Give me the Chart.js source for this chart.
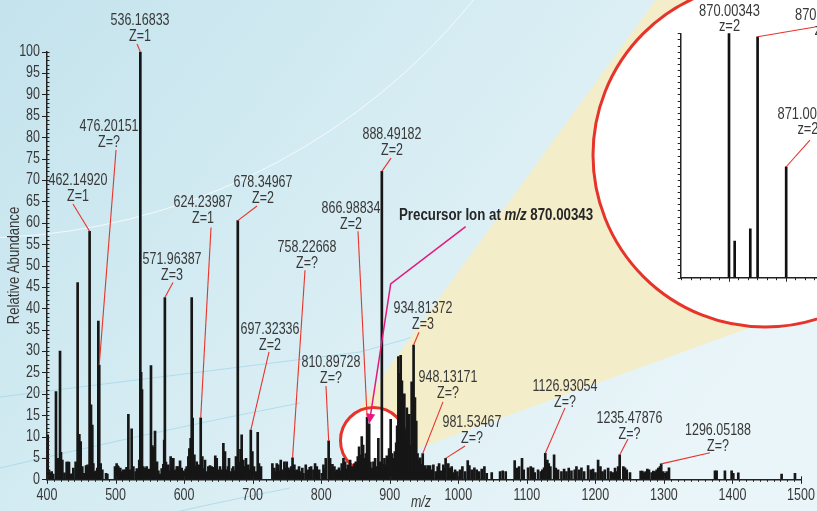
<!DOCTYPE html>
<html>
<head>
<meta charset="utf-8">
<script src="https://cdn.jsdelivr.net/npm/chart.js@4.4.0/dist/chart.umd.min.js"></script>
<style>
  html, body { margin: 0; padding: 0; overflow: hidden; width: 817px; height: 511px; background: #fff; }
  #wrap { position: relative; width: 817px; height: 511px; overflow: hidden; }
  #spectrum { position: absolute; left: 0; top: 0; }
  #closeup { position: absolute; left: 640px; top: 0; }
</style>
</head>
<body>
<div id="wrap">
  <canvas id="spectrum" width="817" height="511"></canvas>
  <canvas id="closeup" width="220" height="300"></canvas>
</div>
<script>
// ---- Full-scan spectrum: centroid m/z and relative abundance (%) ----
const peakMz = [
  401.0, 402.9, 404.5, 406.8, 409.0, 413.1, 415.6, 419.0, 420.4, 422.4,
  425.5, 428.7, 430.2, 432.1, 435.0, 438.4, 441.8, 444.7, 447.2, 449.1,
  451.5, 454.5, 456.9, 459.3, 461.0, 462.14920, 464.2, 466.1, 467.6, 470.0,
  472.0, 473.4, 474.9, 476.20151, 478.3, 480.7, 486.1, 488.0, 499.2, 501.6,
  502.8, 504.1, 505.5, 507.0, 509.2, 511.4, 513.8, 516.0, 518.7, 521.1,
  523.5, 526.0, 529.4, 531.0, 533.2, 534.6, 536.16833, 537.3, 538.6, 540.5,
  543.0, 545.4, 547.5, 549.2, 551.7, 553.7, 555.5, 557.6, 560.5, 562.5,
  564.9, 567.3, 569.7, 571.0, 571.96387, 573.5, 575.2, 577.0, 579.0, 580.4,
  582.2, 584.3, 586.0, 587.7, 589.3, 590.6, 592.5, 594.1, 596.5, 598.5,
  600.5, 602.2, 603.8, 606.2, 607.7, 609.6, 611.1, 612.5, 615.0, 617.0,
  618.4, 620.0, 621.8, 624.23987, 626.6, 628.5, 630.5, 633.0, 635.4, 637.8,
  640.3, 642.0, 643.7, 645.5, 647.6, 650.0, 652.4, 655.0, 657.3, 659.7,
  662.1, 664.0, 665.5, 668.4, 670.5, 671.8, 674.0, 675.7, 677.0, 678.34967,
  680.2, 682.3, 684.0, 686.4, 688.4, 690.3, 693.7, 695.5, 697.32336, 699.6,
  702.0, 704.4, 707.4, 709.3, 712.2, 728.8, 731.7, 733.5, 735.2, 737.5,
  739.3, 741.0, 743.4, 746.3, 748.0, 749.7, 752.2, 754.5, 756.3, 758.22668,
  760.9, 762.5, 764.3, 767.7, 770.6, 772.5, 774.1, 777.5, 779.3, 781.4,
  783.3, 785.3, 788.7, 791.1, 793.6, 795.2, 797.0, 800.9, 803.3, 805.0,
  806.7, 810.89728, 813.0, 814.7, 816.4, 819.3, 821.0, 822.7, 826.1, 828.0,
  830.0, 832.5, 834.9, 836.8, 838.8, 840.5, 842.2, 844.6, 846.5, 848.5,
  850.5, 852.0, 853.4, 855.3, 856.8, 859.2, 861.2, 863.1, 865.1, 866.98834,
  868.5, 870.00343, 871.8, 873.8, 876.3, 878.7, 881.1, 883.4, 886.0, 888.49182,
  890.5, 892.3, 894.3, 895.8, 897.4, 899.1, 901.4, 903.5, 905.5, 907.5,
  909.4, 910.8, 912.6, 914.2, 916.0, 917.8, 919.6, 921.3, 923.2, 925.0,
  927.0, 928.6, 930.5, 932.0, 934.81372, 936.8, 938.7, 940.6, 942.4, 944.5,
  946.5, 948.13171, 951.5, 953.5, 955.4, 958.8, 961.2, 963.7, 967.1, 970.0,
  972.0, 974.8, 978.2, 980.0, 981.53467, 985.5, 988.0, 990.4, 993.0, 995.3,
  998.7, 1002.6, 1006.0, 1009.9, 1013.8, 1016.2, 1019.6, 1023.5, 1026.9, 1030.3,
  1034.2, 1038.1, 1041.5, 1048.8, 1061.0, 1064.8, 1069.2, 1082.3, 1085.7, 1088.7,
  1093.0, 1095.5, 1101.8, 1105.7, 1109.1, 1111.5, 1116.4, 1120.3, 1122.7, 1125.1,
  1126.93054, 1130.0, 1132.0, 1134.4, 1139.8, 1142.2, 1145.6, 1150.5, 1154.4, 1157.8,
  1161.2, 1165.1, 1169.9, 1172.4, 1176.3, 1179.7, 1183.6, 1189.4, 1193.3, 1196.7,
  1200.1, 1204.0, 1207.4, 1210.4, 1213.8, 1218.6, 1222.5, 1225.9, 1228.7, 1231.1,
  1233.2, 1235.47876, 1240.8, 1243.2, 1245.7, 1250.5, 1266.1, 1268.5, 1270.9, 1273.4,
  1275.8, 1278.2, 1282.1, 1284.6, 1287.0, 1289.4, 1291.8, 1294.3, 1296.05188, 1299.1,
  1301.6, 1304.0, 1307.4, 1374.5, 1376.9, 1389.0, 1398.8, 1401.2, 1408.5, 1471.7, 1491.2
];
const peakIntensity = [
  10.4, 2.2, 1.5, 1.8, 1.2, 20.5, 4.9, 30.0, 6.3, 4.5,
  1.5, 4.0, 4.0, 4.0, 1.3, 2.6, 4.1, 46.0, 10.5, 8.8,
  3.0, 1.4, 3.2, 3.4, 2.5, 58.0, 17.4, 12.7, 3.7, 1.8,
  2.0, 2.6, 37.0, 26.7, 3.7, 2.2, 1.4, 1.2, 3.0, 3.7,
  3.2, 3.0, 2.0, 2.6, 1.8, 2.2, 2.2, 2.8, 15.2, 2.2,
  11.8, 3.0, 1.8, 2.5, 2.2, 4.5, 100.0, 25.0, 21.0, 3.0,
  2.6, 3.0, 2.0, 2.4, 26.6, 7.9, 7.5, 11.3, 4.1, 2.0,
  1.2, 2.5, 3.5, 9.2, 42.5, 4.0, 2.5, 3.4, 2.0, 5.3,
  2.5, 4.9, 2.0, 2.2, 3.0, 3.0, 2.2, 4.3, 2.6, 2.0,
  1.8, 2.4, 3.0, 5.3, 7.2, 9.6, 42.5, 14.3, 5.7, 3.0,
  4.1, 2.5, 3.4, 14.4, 5.3, 2.5, 4.5, 1.8, 3.0, 3.2,
  3.0, 2.2, 2.8, 5.5, 4.9, 2.2, 3.0, 2.2, 8.4, 6.5,
  2.2, 3.0, 4.9, 1.8, 2.5, 3.0, 2.0, 5.3, 4.0, 60.5,
  4.0, 7.0, 10.4, 4.5, 3.0, 4.9, 3.4, 2.2, 11.5, 6.5,
  3.0, 1.8, 11.0, 3.7, 3.0, 3.7, 2.6, 1.8, 3.7, 3.4,
  2.0, 4.5, 2.2, 4.1, 2.6, 4.1, 2.7, 2.2, 3.0, 5.0,
  3.4, 2.0, 2.2, 3.0, 1.8, 2.6, 1.4, 3.4, 2.0, 2.2,
  2.8, 3.0, 2.2, 3.7, 3.0, 1.8, 2.2, 1.4, 3.4, 2.4,
  4.9, 9.0, 4.9, 2.8, 3.5, 3.0, 1.8, 2.2, 2.7, 2.0,
  3.7, 4.9, 4.1, 2.4, 3.4, 2.6, 4.5, 3.0, 2.4, 3.7,
  4.1, 3.2, 5.3, 7.6, 5.7, 10.0, 8.0, 4.9, 6.0, 14.5,
  5.0, 13.0, 4.0, 2.6, 4.1, 4.9, 3.0, 9.6, 4.1, 72.0,
  3.5, 4.9, 3.4, 5.5, 4.1, 7.2, 14.0, 6.0, 4.9, 6.5,
  8.5, 12.5, 28.7, 24.8, 29.0, 23.0, 18.2, 20.0, 11.5, 16.7,
  9.0, 15.2, 8.0, 22.8, 31.4, 19.1, 13.6, 6.0, 4.5, 5.0,
  3.5, 6.0, 3.2, 2.4, 3.2, 3.2, 2.2, 3.4, 1.8, 3.0,
  3.7, 2.0, 3.4, 2.6, 4.9, 3.7, 2.6, 3.0, 1.6, 2.2,
  1.8, 2.2, 3.0, 1.8, 4.4, 3.2, 2.2, 2.7, 2.2, 1.8,
  2.4, 3.0, 1.4, 1.6, 1.8, 2.0, 1.8, 4.4, 2.6, 3.0,
  4.9, 2.2, 2.7, 3.0, 2.7, 1.6, 2.2, 1.8, 2.2, 2.7,
  6.1, 4.5, 3.7, 3.0, 5.7, 2.6, 2.2, 1.8, 2.4, 1.8,
  2.6, 2.0, 2.2, 3.0, 2.2, 2.7, 1.8, 3.2, 2.2, 2.4,
  1.6, 4.5, 3.0, 1.8, 2.2, 2.6, 1.8, 1.6, 2.6, 1.8,
  3.0, 5.7, 3.0, 2.7, 2.2, 1.6, 1.9, 1.9, 1.6, 1.8,
  2.4, 2.2, 1.6, 1.9, 1.8, 2.2, 2.6, 3.0, 3.6, 1.8,
  1.4, 1.8, 2.7, 2.0, 2.0, 2.0, 2.0, 1.4, 1.5, 1.2, 1.4
];

// ---- Annotated ions ----
const labeledMz = [462.14920, 476.20151, 536.16833, 571.96387, 624.23987, 678.34967,
  697.32336, 758.22668, 810.89728, 866.98834, 888.49182, 934.81372, 948.13171,
  981.53467, 1126.93054, 1235.47876, 1296.05188];
const labeledCharge = ['1', '?', '1', '3', '1', '2', '2', '?', '?', '2', '2', '3', '?', '?', '?', '?', '?'];
const precursorMz = 870.00343;

// ---- Axis ticks ----
const mzTicks = [400, 500, 600, 700, 800, 900, 1000, 1100, 1200, 1300, 1400, 1500];
const abundanceTicks = [0, 5, 10, 15, 20, 25, 30, 35, 40, 45, 50, 55, 60, 65, 70, 75, 80, 85, 90, 95, 100];

// ---- Precursor isotope cluster (close-up) ----
const closeupMz = [870.00343, 870.103, 870.377, 870.50511, 871.00678];
const closeupIntensity = [100, 15, 20, 98.6, 45.4];
const closeupLabeledMz = [870.00343, 870.50511, 871.00678];
const closeupCharge = ['2', '2', '2'];

// Callout placement, in data units (text centre, and leader start)
const calloutLayout = [
  { tx: 445.2, ty: 69.8, lx: 437.9, ly: 64.4 },
  { tx: 490.5, ty: 82.4, lx: 500.7, ly: 77.0 },
  { tx: 535.7, ty: 107.2, lx: 531.3, ly: 101.8 },
  { tx: 582.4, ty: 51.3, lx: 583.8, ly: 46.0 },
  { tx: 627.6, ty: 64.7, lx: 639.3, ly: 58.9 },
  { tx: 715.1, ty: 69.3, lx: 706.4, ly: 63.9 },
  { tx: 725.3, ty: 34.9, lx: 723.9, ly: 29.8 },
  { tx: 779.3, ty: 54.3, lx: 776.4, ly: 48.9 },
  { tx: 814.3, ty: 27.2, lx: 807.0, ly: 21.8 },
  { tx: 843.5, ty: 63.4, lx: 853.7, ly: 58.0 },
  { tx: 903.3, ty: 80.5, lx: 901.9, ly: 75.1 },
  { tx: 948.5, ty: 39.9, lx: 942.7, ly: 34.4 },
  { tx: 985.0, ty: 23.7, lx: 977.7, ly: 18.1 },
  { tx: 1020.0, ty: 13.2, lx: 1009.8, ly: 7.8 },
  { tx: 1155.7, ty: 21.6, lx: 1155.7, ly: 16.7 },
  { tx: 1249.8, ty: 14.3, lx: 1247.6, ly: 9.4 },
  { tx: 1378.9, ty: 11.5, lx: 1367.2, ly: 6.2 }
];
const closeupLayout = [
  { tx: 870.012, ty: 108.8, lx: null, ly: null },
  { tx: 871.687, ty: 107.2, lx: 871.512, ly: 102.6 },
  { tx: 871.389, ty: 66.6, lx: 871.424, ly: 56.3 }
];
const precursorCallout = { textMz: 913.5, textInt: 61.6, path: [[1010.8, 59.1], [901.4, 45.7]] };
const ringCentre = { mz: 876.3, int: 9.07 };

const FONT = "'Liberation Sans', Arimo, Arial, sans-serif";
const NARROW = 0.78;          // horizontal squeeze for the condensed lettering
const BODY = '16px';
const INK = '#383838';
const RED = '#e7342b';
const MAGENTA = '#e4197f';

function intensityOf(mz) {
  const i = peakMz.indexOf(mz);
  return i >= 0 ? peakIntensity[i] : 0;
}

// condensed text: draw with a horizontal squeeze around the anchor point
function narrowText(ctx, text, x, y, opts = {}) {
  ctx.save();
  ctx.font = (opts.font || BODY) + ' ' + FONT;
  ctx.fillStyle = opts.color || INK;
  ctx.textAlign = opts.align || 'center';
  ctx.textBaseline = 'middle';
  ctx.translate(x, y);
  if (opts.rotate) ctx.rotate(opts.rotate);
  ctx.scale(opts.squeeze || NARROW, 1);
  ctx.fillText(text, 0, 0);
  const w = ctx.measureText(text).width * (opts.squeeze || NARROW);
  ctx.restore();
  return w;
}

// Backdrop: pale gradient, faint arcs, the magnifier cone and lens
const backdrop = {
  id: 'backdrop',
  beforeDraw(chart) {
    const { ctx, width, height, scales: { x, y } } = chart;
    ctx.save();
    const g = ctx.createLinearGradient(0, 0, width * 0.8, height);
    g.addColorStop(0, '#c4e3ed');
    g.addColorStop(0.5, '#d7edf3');
    g.addColorStop(1, '#eaf5f9');
    ctx.fillStyle = g;
    ctx.fillRect(0, 0, width, height);

    ctx.lineWidth = 1;
    ctx.strokeStyle = 'rgba(255,255,255,0.75)';
    ctx.beginPath(); ctx.arc(-25, -403, 641, 0, Math.PI / 2); ctx.stroke();
    ctx.strokeStyle = 'rgba(150,210,228,0.6)';
    ctx.beginPath(); ctx.moveTo(0, 397); ctx.quadraticCurveTo(200, 372, 360, 352); ctx.quadraticCurveTo(450, 330, 520, 290); ctx.stroke();
    ctx.beginPath(); ctx.moveTo(0, 468); ctx.quadraticCurveTo(160, 430, 300, 403); ctx.stroke();
    ctx.beginPath(); ctx.moveTo(180, 511); ctx.quadraticCurveTo(230, 500, 290, 488); ctx.stroke();

    const cx = x.getPixelForValue(ringCentre.mz);
    const cy = y.getPixelForValue(ringCentre.int);
    ctx.fillStyle = '#f4edca';
    ctx.beginPath();
    ctx.moveTo(cx - 15.5, cy - 30.5);
    ctx.lineTo(670, -20);
    ctx.lineTo(900, -20);
    ctx.lineTo(900, 273);
    ctx.lineTo(cx + 34.5, cy + 11.5);
    ctx.lineTo(cx, cy);
    ctx.closePath();
    ctx.fill();

    ctx.fillStyle = '#ffffff';
    ctx.strokeStyle = RED;
    ctx.lineWidth = 3;
    ctx.beginPath(); ctx.arc(765, 155, 172, 0, Math.PI * 2); ctx.fill(); ctx.stroke();
    ctx.beginPath(); ctx.arc(cx, cy, 33, 0, Math.PI * 2); ctx.fill(); ctx.stroke();
    ctx.restore();
  }
};

// Tick marks, tick labels and axis titles
const axisDress = {
  id: 'axisDress',
  afterDatasetsDraw(chart) {
    const { ctx, chartArea: a, scales: { x, y } } = chart;
    ctx.save();
    ctx.strokeStyle = '#222';
    ctx.lineWidth = 1;
    ctx.beginPath();
    for (let v = 0; v <= 100; v += 1) {
      const py = Math.round(y.getPixelForValue(v)) + 0.5;
      if (v % 5 === 0) { ctx.moveTo(a.left - 5, py); ctx.lineTo(a.left + 2.5, py); }
      else { ctx.moveTo(a.left, py); ctx.lineTo(a.left + 2.5, py); }
    }
    for (let v = 400; v <= 1500; v += 10) {
      const px = Math.round(x.getPixelForValue(v)) + 0.5;
      if (v % 100 === 0) { ctx.moveTo(px, a.bottom - 3); ctx.lineTo(px, a.bottom + 4.5); }
      else { ctx.moveTo(px, a.bottom); ctx.lineTo(px, a.bottom + 2.5); }
    }
    ctx.stroke();
    ctx.restore();

    abundanceTicks.forEach(v => narrowText(ctx, String(v), a.left - 7, y.getPixelForValue(v), { align: 'right' }));
    mzTicks.forEach(v => narrowText(ctx, String(v), x.getPixelForValue(v), a.bottom + 16.5));
    narrowText(ctx, 'Relative Abundance', 15, (a.top + a.bottom) / 2, { rotate: -Math.PI / 2, squeeze: 0.82 });
    narrowText(ctx, 'm/z', (a.left + a.right) / 2 - 3, 503, { font: 'italic 16px' });
  }
};

function arrowHead(ctx, x0, y0, x1, y1, len, half) {
  const ang = Math.atan2(y1 - y0, x1 - x0);
  const bx = x1 - len * Math.cos(ang), by = y1 - len * Math.sin(ang);
  ctx.beginPath();
  ctx.moveTo(x1, y1);
  ctx.lineTo(bx + half * Math.sin(ang), by - half * Math.cos(ang));
  ctx.lineTo(bx - half * Math.sin(ang), by + half * Math.cos(ang));
  ctx.closePath();
  ctx.fill();
}

// Peak callouts and the precursor pointer
const callouts = {
  id: 'callouts',
  afterDatasetsDraw(chart) {
    const { ctx, scales: { x, y } } = chart;
    labeledMz.forEach((mz, i) => {
      const L = calloutLayout[i];
      const px = x.getPixelForValue(mz), py = y.getPixelForValue(intensityOf(mz));
      ctx.save();
      ctx.strokeStyle = RED;
      ctx.lineWidth = 1.1;
      ctx.beginPath();
      ctx.moveTo(x.getPixelForValue(L.lx), y.getPixelForValue(L.ly));
      ctx.lineTo(px, py);
      ctx.stroke();
      ctx.restore();
      const tx = x.getPixelForValue(L.tx), ty = y.getPixelForValue(L.ty);
      narrowText(ctx, mz.toFixed(5), tx, ty);
      narrowText(ctx, 'Z=' + labeledCharge[i], tx, ty + 16);
    });

    // precursor pointer
    const tipX = x.getPixelForValue(precursorMz), tipY = y.getPixelForValue(intensityOf(precursorMz));
    const pts = precursorCallout.path.map(p => [x.getPixelForValue(p[0]), y.getPixelForValue(p[1])]);
    ctx.save();
    ctx.strokeStyle = MAGENTA;
    ctx.fillStyle = MAGENTA;
    ctx.lineWidth = 1.5;
    const last = pts[pts.length - 1];
    const ang = Math.atan2(tipY - last[1], tipX - last[0]);
    ctx.beginPath();
    ctx.moveTo(pts[0][0], pts[0][1]);
    for (let k = 1; k < pts.length; k++) ctx.lineTo(pts[k][0], pts[k][1]);
    ctx.lineTo(tipX - 6 * Math.cos(ang), tipY - 6 * Math.sin(ang));
    ctx.stroke();
    arrowHead(ctx, last[0], last[1], tipX, tipY, 10, 4.5);
    ctx.restore();

    // precursor caption
    let cx = x.getPixelForValue(precursorCallout.textMz);
    const cy = y.getPixelForValue(precursorCallout.textInt);
    const parts = [['Precursor Ion at ', 'bold 16px'], ['m/z', 'italic bold 16px'], [' ' + precursorMz.toFixed(5), 'bold 16px']];
    parts.forEach(([t, f]) => {
      cx += narrowText(ctx, t, cx, cy, { font: f, align: 'left', color: '#262626', squeeze: 0.83 });
    });
  }
};

new Chart(document.getElementById('spectrum'), {
  type: 'bar',
  data: {
    datasets: [{
      data: peakMz.map((m, i) => ({ x: m, y: peakIntensity[i] })),
      backgroundColor: '#161616',
      borderWidth: 0,
      barThickness: 2
    }]
  },
  options: {
    responsive: false,
    animation: false,
    events: [],
    layout: { padding: { left: 0, right: 16, top: 51.7, bottom: 0 } },
    plugins: { legend: { display: false }, tooltip: { enabled: false } },
    scales: {
      x: {
        type: 'linear', min: mzTicks[0], max: mzTicks[mzTicks.length - 1], offset: false,
        grid: { display: false, drawTicks: false },
        border: { display: true, color: '#222', width: 1.5 },
        ticks: { display: false },
        afterFit: s => { s.height = 31.7; }
      },
      y: {
        min: 0, max: 100,
        grid: { display: false, drawTicks: false },
        border: { display: true, color: '#222', width: 1.5 },
        ticks: { display: false },
        afterFit: s => { s.width = 47; }
      }
    }
  },
  plugins: [backdrop, axisDress, callouts]
});

// Close-up of the precursor isotope cluster
const closeupDecor = {
  id: 'closeupDecor',
  afterDatasetsDraw(chart) {
    const { ctx, chartArea: a, scales: { x, y } } = chart;
    ctx.save();
    ctx.strokeStyle = '#222';
    ctx.lineWidth = 1;
    ctx.beginPath();
    for (let v = 0; v <= 100; v += 2.5) {
      const py = Math.round(y.getPixelForValue(v)) + 0.5;
      ctx.moveTo(a.left - 3, py); ctx.lineTo(a.left, py);
    }
    for (let k = 0; k <= 18; k++) {
      const v = 869 + k / 6;
      if (v < x.min) continue;
      const px = Math.round(x.getPixelForValue(v)) + 0.5;
      const major = k % 6 === 0;
      ctx.moveTo(px, a.bottom); ctx.lineTo(px, a.bottom + (major ? 4 : 2.5));
    }
    ctx.stroke();
    ctx.restore();

    closeupLabeledMz.forEach((mz, i) => {
      const L = closeupLayout[i];
      const idx = closeupMz.indexOf(mz);
      const px = x.getPixelForValue(mz), py = y.getPixelForValue(closeupIntensity[idx]);
      if (L.lx !== null) {
        ctx.save();
        ctx.strokeStyle = RED;
        ctx.lineWidth = 1.1;
        ctx.beginPath();
        ctx.moveTo(x.getPixelForValue(L.lx), y.getPixelForValue(L.ly));
        ctx.lineTo(px, py);
        ctx.stroke();
        ctx.restore();
      }
      const tx = x.getPixelForValue(L.tx), ty = y.getPixelForValue(L.ty);
      narrowText(ctx, mz.toFixed(5), tx, ty, { font: '16.5px' });
      narrowText(ctx, 'z=' + closeupCharge[i], tx, ty + 15, { font: '16.5px' });
    });
  }
};

new Chart(document.getElementById('closeup'), {
  type: 'bar',
  data: {
    datasets: [{
      data: closeupMz.map((m, i) => ({ x: m, y: closeupIntensity[i] })),
      backgroundColor: '#111',
      borderWidth: 0,
      barThickness: 2
    }]
  },
  options: {
    responsive: false,
    animation: false,
    events: [],
    layout: { padding: { left: 40.7, top: 33.3, right: 17.2, bottom: 22.3 } },
    plugins: { legend: { display: false }, tooltip: { enabled: false } },
    scales: {
      x: {
        type: 'linear', min: 869.156, max: 872.0, offset: false,
        grid: { display: false, drawTicks: false },
        ticks: { display: false },
        border: { display: true, color: '#222', width: 1.5 },
        afterFit: s => { s.height = 0; }
      },
      y: {
        min: 0, max: 100,
        grid: { display: false, drawTicks: false },
        ticks: { display: false },
        border: { display: true, color: '#222', width: 1.5 },
        afterFit: s => { s.width = 0; }
      }
    }
  },
  plugins: [closeupDecor]
});
</script>
</body>
</html>
